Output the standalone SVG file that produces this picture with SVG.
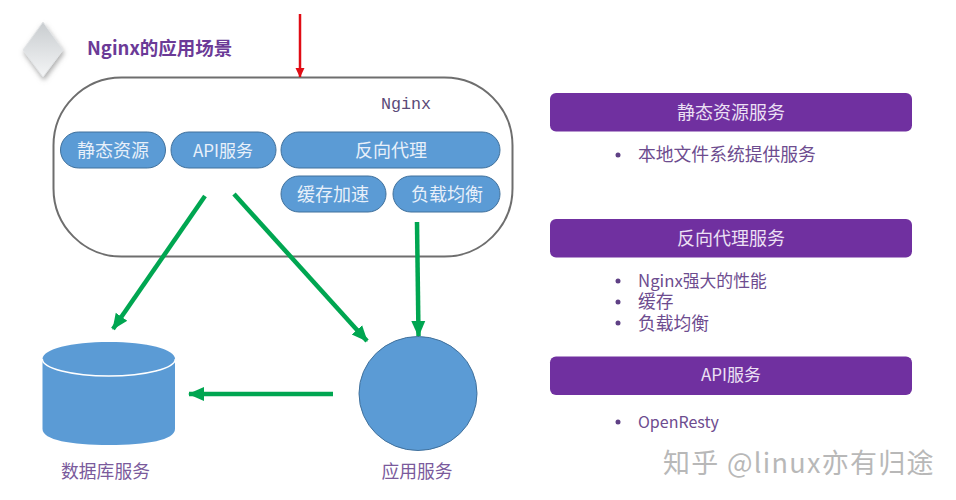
<svg xmlns="http://www.w3.org/2000/svg" width="956" height="500" viewBox="0 0 956 500">
<style>
text{font-family:"Noto Sans CJK SC","Noto Sans",sans-serif}
.pill{fill:#5b9bd5;stroke:#41719c;stroke-width:1}
.pt{fill:#e8f0fa;font-size:18px;text-anchor:middle}
.bar{fill:#7030a0}
.bt{fill:#ece0f4;font-size:18px;text-anchor:middle}
.li{fill:#6d4c8f;font-size:17.800px}
.cap{fill:#7a5a9c;font-size:17.800px;text-anchor:middle}
.g{stroke:#00a651;stroke-width:4.500;fill:none}
.dot{fill:#5f4085}
</style>
<defs>
<marker id="ga" markerUnits="userSpaceOnUse" markerWidth="17" markerHeight="16" refX="15" refY="8" orient="auto"><path d="M0 1L16 8L0 15Z" fill="#00a651"/></marker>
<marker id="ra" markerUnits="userSpaceOnUse" markerWidth="11" markerHeight="10" refX="9" refY="4.500" orient="auto"><path d="M0 0L9.500 4.500L0 9Z" fill="#e00c14"/></marker>
<linearGradient id="dg" x1="0" y1="0" x2="0" y2="1"><stop offset="0" stop-color="#c8cccf"/><stop offset="1" stop-color="#f4f5f6"/></linearGradient>
<filter id="sh" x="-40%" y="-40%" width="180%" height="180%"><feDropShadow dx="1" dy="3" stdDeviation="2.500" flood-color="#777" flood-opacity="0.6"/></filter>
</defs>
<rect width="956" height="500" fill="#fff"/>
<g id="logo"><path d="M43 22L63 50L43 77L23 50Z" fill="url(#dg)" stroke="#e2e4e6" stroke-width="1" stroke-linejoin="round" filter="url(#sh)"/></g>
<g id="title"><text x="87" y="55" font-size="18.500" font-weight="700" fill="#6b3a97">Nginx的应用场景</text></g>
<g id="nginx">
<rect x="53.500" y="77.500" width="459" height="179" rx="68" ry="68" fill="#fff" stroke="#6e6e6e" stroke-width="2"/>
<text x="381" y="109" font-size="16.700" fill="#5a4a78" style="font-family:'Liberation Mono','DejaVu Sans Mono',monospace">Nginx</text>
</g>
<g id="static"><rect class="pill" x="60.500" y="132" width="105" height="36" rx="18"/><text class="pt" x="113" y="156.500">静态资源</text></g>
<g id="api"><rect class="pill" x="171" y="132" width="105" height="36" rx="18"/><text class="pt" x="223" y="156.500" style="font-size:17px">API服务</text></g>
<g id="proxy"><rect class="pill" x="281" y="132" width="219" height="36" rx="18"/><text class="pt" x="391" y="156.500">反向代理</text></g>
<g id="cache"><rect class="pill" x="281" y="176" width="105" height="36" rx="18"/><text class="pt" x="333" y="200.500">缓存加速</text></g>
<g id="lb"><rect class="pill" x="393" y="176" width="107" height="36" rx="18"/><text class="pt" x="447" y="200.500">负载均衡</text></g>
<g id="database">
<path d="M42.500 359V429C42.500 440 71 445 109 445C147 445 175 440 175 429V359Z" fill="#5b9bd5"/>
<ellipse cx="108.800" cy="359" rx="66.500" ry="17" fill="#5b9bd5" stroke="#fff" stroke-width="1.500"/>
<path d="M42.500 359C42.500 349 71 342 109 342C147 342 175 349 175 359" fill="#5b9bd5"/>
<text class="cap" x="105.500" y="478">数据库服务</text>
</g>
<g id="app">
<ellipse cx="418" cy="393.500" rx="59" ry="57" fill="#5b9bd5" stroke="#41719c"/>
<text class="cap" x="417" y="478">应用服务</text>
</g>
<g id="connectors">
<path d="M300 14V77" stroke="#e00c14" stroke-width="2.500" fill="none" marker-end="url(#ra)"/>
<path class="g" d="M205 196L113 329" marker-end="url(#ga)"/>
<path class="g" d="M234 194L367 341" marker-end="url(#ga)"/>
<path class="g" d="M417 222L418.500 336" marker-end="url(#ga)"/>
<path class="g" d="M333 394H189" marker-end="url(#ga)"/>
</g>
<g id="panel-static">
<rect class="bar" x="550" y="93" width="362" height="38.500" rx="6"/><text class="bt" x="731" y="119">静态资源服务</text>
<circle class="dot" cx="618" cy="155" r="2.500"/><text class="li" x="638" y="161">本地文件系统提供服务</text>
</g>
<g id="panel-proxy">
<rect class="bar" x="550" y="219" width="362" height="38.500" rx="6"/><text class="bt" x="731" y="244.500">反向代理服务</text>
<circle class="dot" cx="618" cy="281" r="2.500"/><text class="li" x="638" y="287" style="font-size:16.800px">Nginx强大的性能</text>
<circle class="dot" cx="618" cy="302" r="2.500"/><text class="li" x="638" y="308">缓存</text>
<circle class="dot" cx="618" cy="323" r="2.500"/><text class="li" x="638" y="329.500">负载均衡</text>
</g>
<g id="panel-api">
<rect class="bar" x="550" y="356.500" width="362" height="38.500" rx="6"/><text class="bt" x="731" y="381" style="font-size:17px">API服务</text>
<circle class="dot" cx="618" cy="422" r="2.500"/><text class="li" x="638" y="427.500" style="font-size:16px">OpenResty</text>
</g>
<text x="663" y="473" font-size="27" letter-spacing="1.300" fill="#b8b8b8">知乎 @linux亦有归途</text>
</svg>
